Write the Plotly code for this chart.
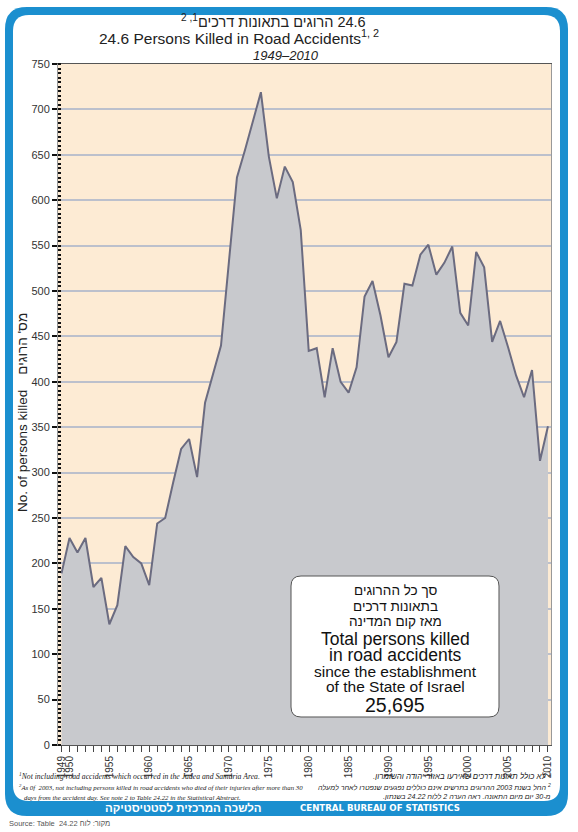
import plotly.graph_objects as go

# ---------------- data ----------------
years = list(range(1949, 2011))
killed = [
    189, 228, 212, 228, 174, 184, 133, 154, 219, 207, 200,   # 1949-1959
    176, 244, 250, 289, 326, 337, 295, 377, 408, 440,        # 1960-1969
    533, 625, 655, 688, 719, 648, 602, 637, 620, 567,        # 1970-1979
    434, 437, 383, 437, 400, 388, 416, 494, 511, 473,        # 1980-1989
    427, 444, 508, 506, 540, 551, 518, 531, 549, 476,        # 1990-1999
    462, 543, 526, 444, 467, 438, 407, 383, 413, 313,        # 2000-2009
    351,                                                     # 2010
]
tick_years = [1949, 1950, 1955, 1960, 1965, 1970, 1975, 1980, 1985,
              1990, 1995, 2000, 2005, 2010]
tick_text = [str(y) for y in tick_years]
y_ticks = list(range(0, 751, 50))

title_he = "הרוגים בתאונות דרכים"
title_en = "24.6 Persons Killed in Road Accidents"
subtitle = "1949–2010"
ytitle_en = "No. of persons killed"
ytitle_he = "מס' הרוגים"
box_he = ["סך כל ההרוגים", "בתאונות דרכים", "מאז קום המדינה"]
box_en = ["Total persons killed", "in road accidents",
          "since the establishment", "of the State of Israel"]
box_total = "25,695"
foot_en = [
    "Not including road accidents which occurred in the Judea and Samaria Area.",
    "As 0f  2003, not including persons killed in road accidents who died of their injuries after more than 30",
    "days from the accident day. See note 2 to Table 24.22 in the Statistical Abstract.",
]
foot_he = [
    "לא כולל תאונות דרכים שאירעו באזור יהודה והשומרון.",
    "החל בשנת 2003 ההרוגים בתרשים אינם כוללים נפגעים שנפטרו לאחר למעלה",
    "מ-30 יום מיום התאונה. ראה הערה 2 ללוח 24.22 בשנתון.",
]

# ---------------- geometry helpers ----------------
W, H = 578, 832
L, R, T, B = 58, 27, 64, 87
PW, PH = W - L - R, H - T - B


def px(x):
    return (x - L) / PW


def py(y):
    return (H - B - y) / PH


def rrect(x0, y0, x1, y1, r):
    pts = [
        ("M", (x0 + r, y0)), ("L", (x1 - r, y0)), ("Q", (x1, y0), (x1, y0 + r)),
        ("L", (x1, y1 - r)), ("Q", (x1, y1), (x1 - r, y1)),
        ("L", (x0 + r, y1)), ("Q", (x0, y1), (x0, y1 - r)),
        ("L", (x0, y0 + r)), ("Q", (x0, y0), (x0 + r, y0)),
    ]
    s = ""
    for p in pts:
        cmd = p[0]
        coords = " ".join(f"{px(a):.5f},{py(b):.5f}" for a, b in p[1:])
        s += f"{cmd} {coords} "
    return s + "Z"


FONT = "Liberation Sans, Arial, DejaVu Sans, sans-serif"
SERIF = "Liberation Serif, Times New Roman, serif"
WIDE = "DejaVu Sans"
BLUE = "#1b8fcf"

fig = go.Figure()
fig.add_trace(go.Scatter(
    x=years, y=killed, mode="lines", fill="tozeroy",
    fillcolor="#c8c9cd", line=dict(color="#6b6b80", width=2),
    hoverinfo="x+y", showlegend=False,
))

shapes = [
    dict(type="path", xref="paper", yref="paper", layer="below",
         path=rrect(5, 7, 568, 816, 22), fillcolor=BLUE, line=dict(width=0)),
    dict(type="path", xref="paper", yref="paper", layer="below",
         path=rrect(13, 15, 560, 801, 16), fillcolor="white", line=dict(width=0)),
    dict(type="rect", xref="paper", yref="paper", layer="below",
         x0=0, x1=1, y0=0, y1=1, fillcolor="#fdebd4", line=dict(width=0)),
    dict(type="path", xref="paper", yref="paper", layer="above",
         path=rrect(291, 576, 499, 717, 10), fillcolor="white",
         line=dict(color="#555555", width=1)),
]

ann = []


def add_text(text, x, y, size, xanchor="center", color="#222", family=FONT,
             angle=0):
    ann.append(dict(text=text, x=px(x), y=py(y), xref="paper", yref="paper",
                    xanchor=xanchor, yanchor="middle", showarrow=False,
                    textangle=angle,
                    font=dict(size=size, color=color, family=family)))


# titles
add_text("<sup>2 ,1</sup>" + title_he + "\u200e 24.6", 368, 21, 14.5, xanchor="right")
add_text(title_en + "<sup>1, 2</sup>", 97, 37, 15.5, xanchor="left")
add_text("<i>" + subtitle + "</i>", 286, 56, 13)

# y axis title
add_text(ytitle_en + "\u00a0\u00a0\u00a0\u00a0" + ytitle_he, 22, 413, 13.5, angle=-90)

# text box
for txt, yy in zip(box_he, [590, 606, 621]):
    add_text(txt, 395, yy, 13.5, color="#111")
for txt, yy, sz in zip(box_en, [639, 655, 671, 686], [17.5, 17.5, 15.5, 15.5]):
    add_text(txt, 395, yy, sz, color="#111")
add_text(box_total, 395, 705, 19.5, color="#111")

# footnotes
for i, (txt, yy, sz) in enumerate(zip(foot_en, [776, 787, 797], [7.7, 6.8, 6.8])):
    pre = f"<sup>{i + 1}</sup>" if i < 2 else ""
    add_text("<i>" + pre + txt + "</i>", 17 if i < 2 else 22, yy, sz,
             xanchor="left", family=SERIF)
for i, (txt, yy, sz) in enumerate(zip(foot_he, [776, 787, 797], [7.9, 7.1, 7.1])):
    pre = f"\u200f<sup>{i + 1}</sup> " if i < 2 else "\u200f"
    add_text("<i>" + pre + txt + "\u200f</i>", 553, yy, sz, xanchor="right")

# bottom band
add_text("<b>הלשכה המרכזית לסטטיסטיקה</b>", 264, 808, 11.5, xanchor="right",
         color="white")
add_text("<b>CENTRAL BUREAU OF STATISTICS</b>", 298, 808, 8.6, xanchor="left",
         color="white", family=WIDE)
add_text("Source: Table  24.22 מקור: לוח", 7, 823, 7.5, xanchor="left",
         color="#555")

fig.update_layout(
    width=W, height=H,
    margin=dict(l=L, r=R, t=T, b=B, pad=0),
    paper_bgcolor="white", plot_bgcolor="#fdebd4",
    shapes=shapes, annotations=ann,
    showlegend=False,
    font=dict(family=FONT, color="#333"),
)
fig.update_xaxes(
    range=[1948.56, 2010.38], tickvals=tick_years, ticktext=tick_text,
    tickangle=-90, ticks="outside", ticklen=6, tickwidth=1, tickcolor="#444",
    tickfont=dict(size=10, family=FONT, color="#333"),
    minor=dict(dtick=1, tick0=1949, ticks="outside", ticklen=6,
               tickwidth=1, tickcolor="#444", showgrid=False),
    showgrid=False, zeroline=False, showline=True, linecolor="#555",
    linewidth=1, mirror=True,
)
fig.update_yaxes(
    range=[0, 750], tickvals=y_ticks, ticks="outside", ticklen=5,
    tickwidth=1.5, tickcolor="#111",
    tickfont=dict(size=11, family=FONT, color="#333"),
    minor=dict(dtick=5, tick0=0, ticks="inside", ticklen=3, tickwidth=2,
               tickcolor="#111", showgrid=False),
    showgrid=True, gridcolor="#bcc0cc", gridwidth=2,
    zeroline=False, showline=True, linecolor="#999", linewidth=1, mirror=True,
)

fig.write_html("out.html")
